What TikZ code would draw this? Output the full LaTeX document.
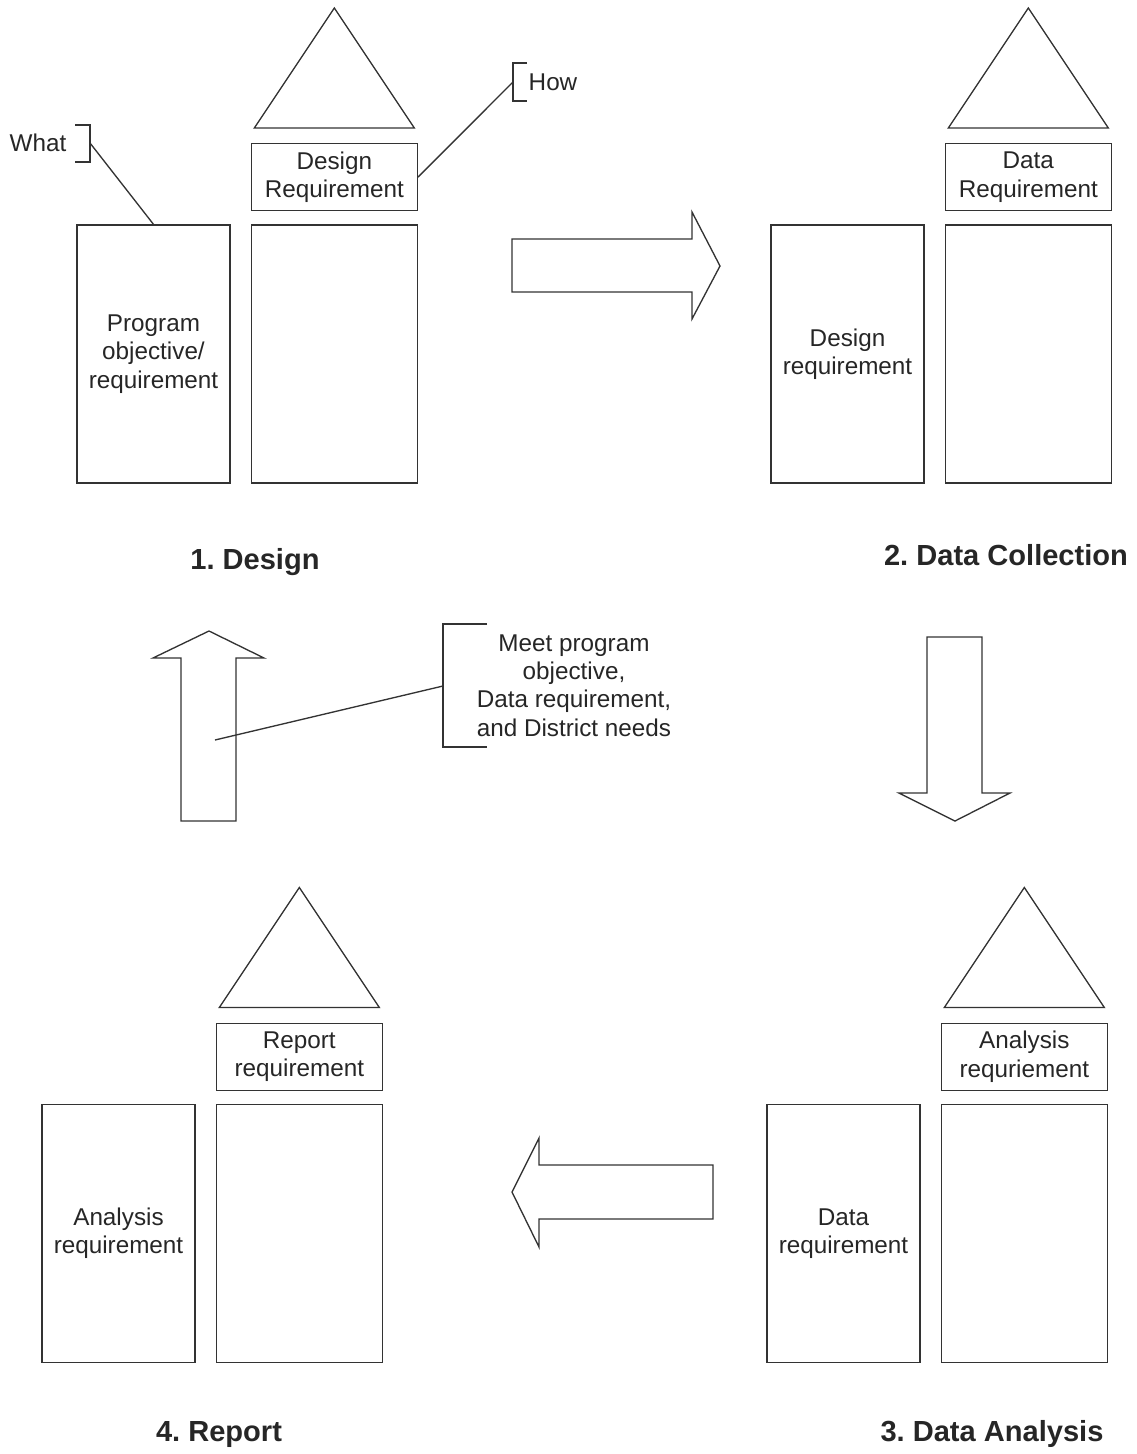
\documentclass[tikz,border=0pt]{standalone}
\usepackage{fontspec}
\setmainfont{Liberation Sans}
\usetikzlibrary{positioning}
\frenchspacing

\tikzset{
    ln/.style = {draw = black!80, line width = 1pt},
    txt/.style = {text = black!85, align = center, inner sep = 0pt,
        font = \fontsize{18.2pt}{21.3pt}\selectfont},
    colbox/.style = {ln, txt, minimum width = 114.75pt, minimum height = 193.5pt},
    pillar/.style = {ln, txt, minimum width = 124.5pt, minimum height = 193.5pt},
    reqbox/.style = {ln, txt, minimum width = 124.5pt, minimum height = 50.25pt},
    stage/.style = {txt, font = \fontsize{21.8pt}{24pt}\selectfont\bfseries}
}

\begin{document}
\begin{tikzpicture}[x = 0.75pt, y = -0.75pt]
    \useasboundingbox (0,0) rectangle (1137,1454);

        % 1. Design
        \node (designL)[colbox] at (153.5,354) {Program\\objective/\\requirement};
        \node (designR)[pillar, right = 15pt of designL] {};
        \node (designReq)[reqbox, above = 9.75pt of designR] {Design\\Requirement};
        \draw[ln] ([shift={(-80,-15)}]designReq.north) -- ([shift={(0,-135)}]designReq.north)
            -- ([shift={(80,-15)}]designReq.north) -- cycle;
        \node (design)[stage] at (255,562) {1. Design};

        % 2. Data Collection
        \node (collectL)[colbox] at (847.5,354) {Design\\requirement};
        \node (collectR)[pillar, right = 15pt of collectL] {};
        \node (collectReq)[reqbox, above = 9.75pt of collectR] {Data\\Requirement};
        \draw[ln] ([shift={(-80,-15)}]collectReq.north) -- ([shift={(0,-135)}]collectReq.north)
            -- ([shift={(80,-15)}]collectReq.north) -- cycle;
        \node (collect)[stage] at (1006,555) {2. Data Collection};

        % 3. Data Analysis
        \node (analysisL)[colbox] at (843.5,1233.5) {Data\\requirement};
        \node (analysisR)[pillar, right = 15pt of analysisL] {};
        \node (analysisReq)[reqbox, above = 9.75pt of analysisR] {Analysis\\requriement};
        \draw[ln] ([shift={(-80,-15)}]analysisReq.north) -- ([shift={(0,-135)}]analysisReq.north)
            -- ([shift={(80,-15)}]analysisReq.north) -- cycle;
        \node (analysis)[stage] at (992,1434) {3. Data Analysis};

        % 4. Report
        \node (reportL)[colbox] at (118.5,1233.5) {Analysis\\requirement};
        \node (reportR)[pillar, right = 15pt of reportL] {};
        \node (reportReq)[reqbox, above = 9.75pt of reportR] {Report\\requirement};
        \draw[ln] ([shift={(-80,-15)}]reportReq.north) -- ([shift={(0,-135)}]reportReq.north)
            -- ([shift={(80,-15)}]reportReq.north) -- cycle;
        \node (report)[stage] at (219,1434) {4. Report};

        % block arrows between the stages
        \draw[ln] (512,239) -- (692,239) -- (692,212) -- (720,266) -- (692,319) -- (692,292) -- (512,292) -- cycle;
        \draw[ln] (927,637) -- (982,637) -- (982,793) -- (1010,793) -- (955,821) -- (899,793) -- (927,793) -- cycle;
        \draw[ln] (713,1165) -- (539,1165) -- (539,1138) -- (512,1192) -- (539,1247) -- (539,1219) -- (713,1219) -- cycle;
        \draw[ln] (181,821) -- (181,658) -- (153,658) -- (209,631) -- (264,658) -- (236,658) -- (236,821) -- cycle;

        % callouts
        \node (what)[txt] at (38,143) {What};
        \draw[ln] (75,125) -- (90,125) -- (90,162) -- (75,162);
        \coordinate (whatTip) at (90,143);
        \path (whatTip) edge[ln] (designL.north);

        \node (how)[txt] at (553,82) {How};
        \draw[ln] (527,63) -- (513,63) -- (513,101) -- (527,101);
        \coordinate (howTip) at (513,82);
        \path (howTip) edge[ln] (designReq.east);

        \node (meet)[txt] at (574,685.5) {Meet program\\objective,\\Data requirement,\\and District needs};
        \draw[ln] (487,624) -- (443,624) -- (443,747) -- (487,747);
        \coordinate (meetTip) at (443,686);
        \coordinate (upShaft) at (215,740);
        \path (meetTip) edge[ln] (upShaft);
    \end{tikzpicture}
\end{document}
